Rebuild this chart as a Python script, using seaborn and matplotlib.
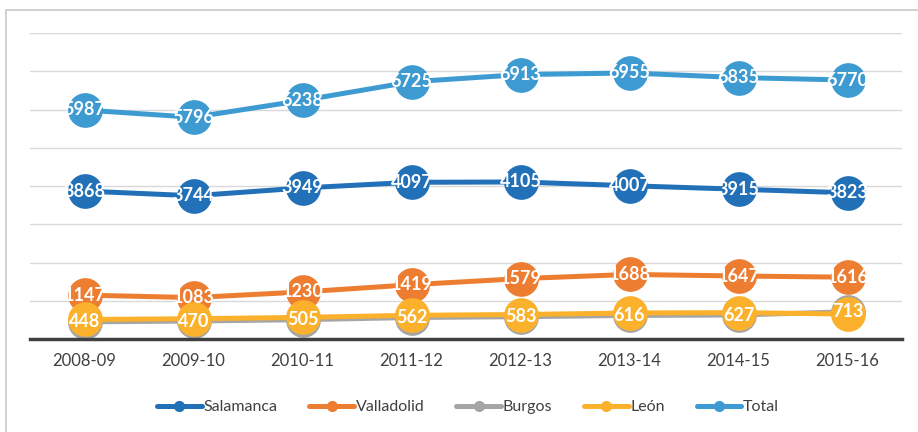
import pandas as pd
import seaborn as sns
from matplotlib import pyplot as plt
from matplotlib.patches import Rectangle
from matplotlib.lines import Line2D

# %%
cursos = ['2008-09', '2009-10', '2010-11', '2011-12', '2012-13', '2013-14', '2014-15', '2015-16']
salamanca = [3868, 3744, 3949, 4097, 4105, 4007, 3915, 3823]
valladolid = [1147, 1083, 1230, 1419, 1579, 1688, 1647, 1616]
burgos = [448, 470, 505, 562, 583, 616, 627, 713]
leon = [510, 530, 565, 620, 640, 680, 690, 650]
total = [5987, 5796, 6238, 6725, 6913, 6955, 6835, 6770]

series = ['Salamanca', 'Valladolid', 'Burgos', 'León', 'Total']
colores = ['#2271B8', '#ED7D31', '#A5A5A5', '#FBB12B', '#3E9BD2']

df = pd.DataFrame({'curso': cursos, 'Salamanca': salamanca, 'Valladolid': valladolid,
                   'Burgos': burgos, 'León': leon, 'Total': total})
df_long = df.melt(id_vars='curso', var_name='serie', value_name='valor')

# %%
sns.set_style('white')
plt.rcParams['font.family'] = ['Lato', 'DejaVu Sans']

fig = plt.figure(figsize=(9.18, 4.32), dpi=100)
ax = fig.add_axes([30 / 918, 1 - 339 / 432, 872 / 918, 306 / 432])

sns.lineplot(data=df_long, x='curso', y='valor', hue='serie', hue_order=series,
             palette=colores, marker='o', markersize=25, markeredgewidth=0,
             linewidth=3.6, sort=False, legend=False, ax=ax)

# etiquetas dentro de los circulos (las de León quedan tapadas por Burgos)
for nombre in ['Salamanca', 'Valladolid', 'Burgos', 'Total']:
    for i, v in enumerate(df[nombre]):
        ax.text(i, v, str(v), color='white', fontsize=13, fontweight='bold',
                ha='center', va='center', zorder=10)

ax.set_xlim(-0.5, 7.5)
ax.set_ylim(0, 8000)
ax.set_yticks(range(1000, 8001, 1000))
ax.yaxis.grid(True, color='#d9d9d9', linewidth=1)
ax.set_yticklabels([])
ax.tick_params(axis='y', length=0)
ax.tick_params(axis='x', length=0, pad=10, labelsize=12, labelcolor='#404040')
ax.set_xlabel('')
ax.set_ylabel('')
sns.despine(ax=ax, left=True, top=True, right=True)
ax.spines['bottom'].set_color('#404040')
ax.spines['bottom'].set_linewidth(2.5)

handles = [Line2D([0], [0], color=c, linewidth=3.6, marker='o', markersize=7)
           for c in colores]
fig.legend(handles, series, loc='center', bbox_to_anchor=(468 / 918, 1 - 407 / 432),
           ncol=5, frameon=False, fontsize=11.5, handlelength=2.8, handletextpad=0.1,
           columnspacing=2.0, labelcolor='#404040')

fig.patches.append(Rectangle((6 / 918, -0.01), 1.0, 1 - 10 / 432 + 0.01,
                             transform=fig.transFigure, fill=False,
                             edgecolor='#c8c8c8', linewidth=1.2))

fig.savefig('out.png', dpi=100)
